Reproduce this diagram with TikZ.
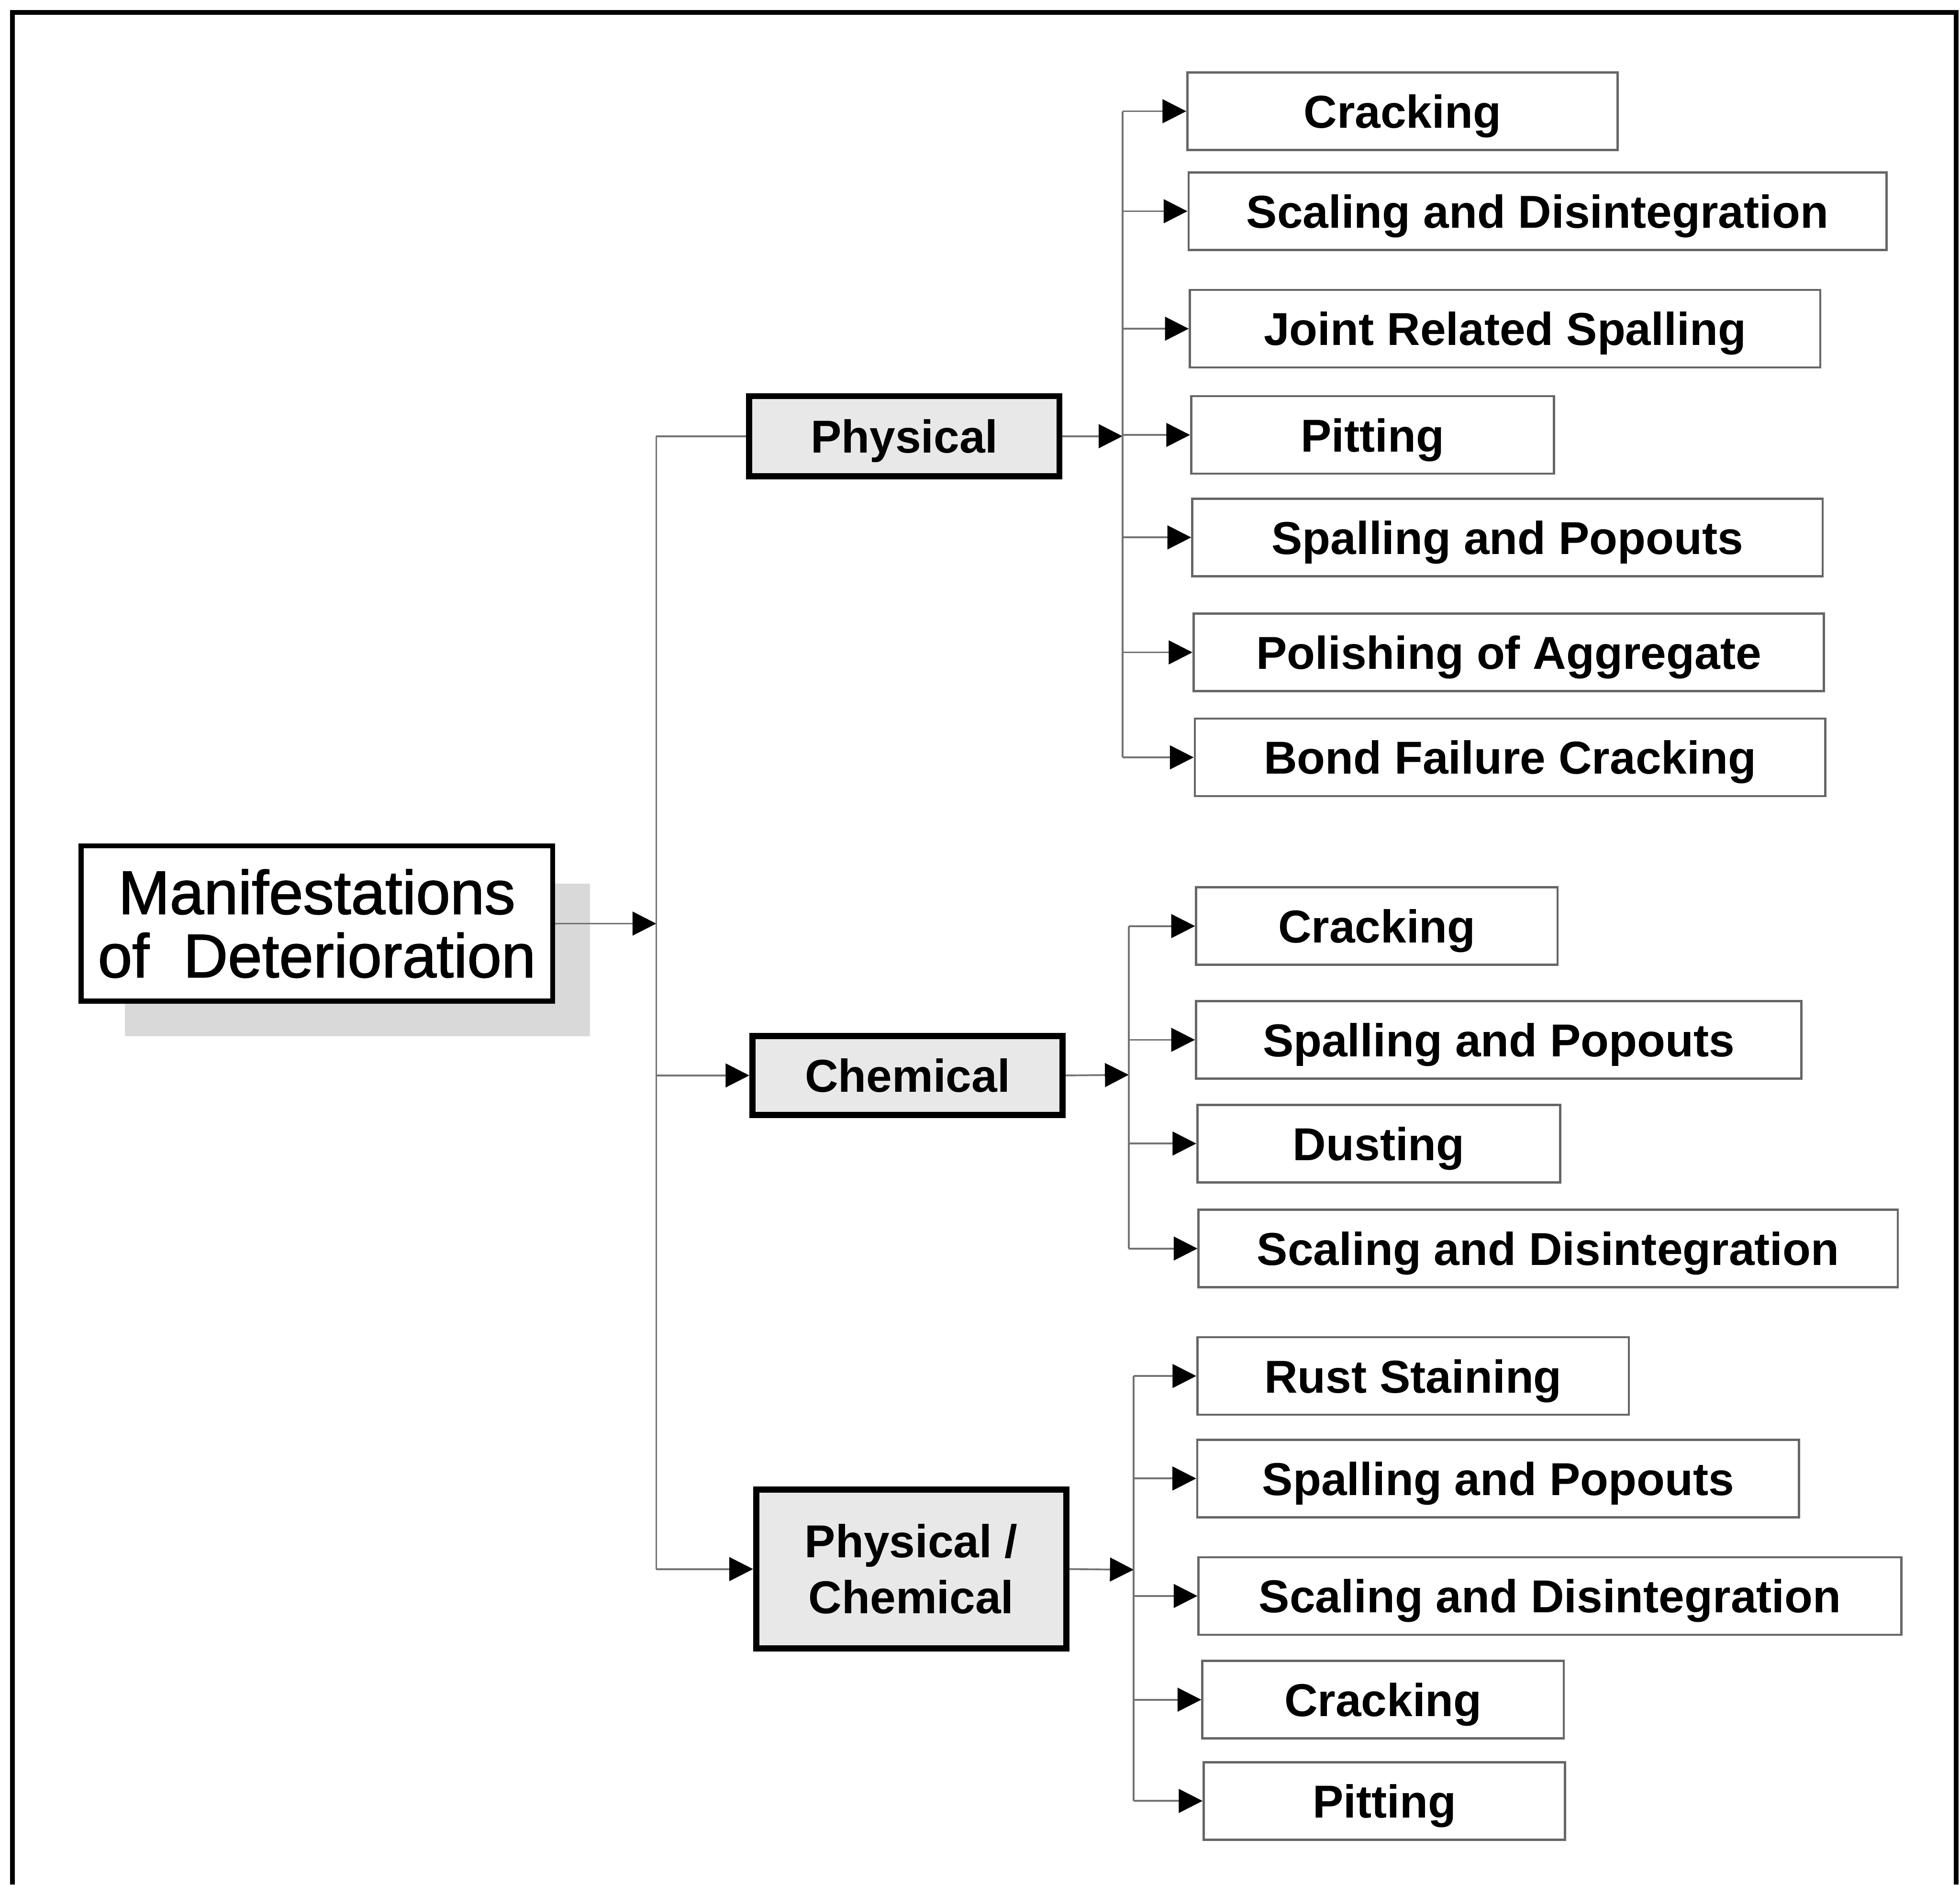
\documentclass[tikz,border=0pt]{standalone}
\usepackage{fontspec}
\setmainfont{Liberation Sans}
\newfontfamily\rootfont[FakeBold=1.5]{Liberation Sans}
\usetikzlibrary{arrows.meta}

\begin{document}
\begin{tikzpicture}[x=0.01cm, y=-0.01cm,
    rootbox/.style={rectangle, draw, line width=1.1pt, fill=white, align=center,
                    inner sep=0pt, minimum width=3.77cm, minimum height=1.24cm,
                    font=\rootfont\fontsize{14}{14.4}\selectfont},
    catbox/.style={rectangle, draw, line width=1.4pt, fill=gray!18, align=center,
                   inner sep=0pt, minimum width=2.48cm,
                   font=\fontsize{10.5}{12.8}\selectfont\bfseries},
    capline/.style={text height=7.6pt, text depth=0pt},
    leafbox/.style={rectangle, draw=black!60, line width=0.5pt, fill=white, capline,
                    inner sep=0pt, minimum height=0.62cm,
                    font=\fontsize{10.5}{12.8}\selectfont\bfseries},
    conn/.style={draw=black!55, line width=0.4pt},
    arr/.style={conn, -{Triangle[length=0.19cm, width=0.19cm, color=black]}}
]
\useasboundingbox (0,0) rectangle (1568,1508);
\draw[line width=1.1pt] (10,1508) -- (10,10) -- (1565,10) -- (1565,1508);

% root and its shadow
\fill[gray!30] (100,707) rectangle (472,829);
\node[rootbox] (root) at (253.5,739) {Manifestations\\of~ Deterioration};

\node[catbox, capline, minimum height=0.64cm] (phys) at (723.5,349) {Physical};
\node[catbox, capline, minimum height=0.63cm] (chem) at (726,860.5) {Chemical};
\node[catbox, minimum height=1.27cm] (physchem) at (729,1255.5) {Physical /\\Chemical};

\coordinate (trunk) at (525,739);
\coordinate (pbus) at (898,349);
\coordinate (cbus) at (903,860);
\coordinate (pcbus) at (907,1256);

\draw[arr] (root.east) -- (trunk);
\draw[conn] (trunk |- phys.west) -- (trunk |- physchem.west);
\draw[conn] (trunk |- phys.west) -- (phys.west);
\draw[arr] (trunk |- chem.west) -- (chem.west);
\draw[arr] (trunk |- physchem.west) -- (physchem.west);

\draw[arr] (phys.east) -- (pbus);
\draw[arr] (chem.east) -- (cbus);
\draw[arr] (physchem.east) -- (pcbus);

% leaves
\foreach \xa/\xb/\yc/\txt [count=\i] in {
    950/1294/89/Cracking,
    951/1509/169/Scaling and Disintegration,
    952/1456/263/Joint Related Spalling,
    953/1243/348/Pitting,
    954/1458/430/Spalling and Popouts,
    955/1459/522/Polishing of Aggregate,
    956/1460/606/Bond Failure Cracking} {
    \pgfmathsetmacro\leafw{(\xb-\xa)/100}
    \node[leafbox, minimum width=\leafw cm] (phys\i) at ({(\xa+\xb)/2},\yc) {\txt};
    \draw[arr] (pbus |- phys\i.west) -- (phys\i.west);
}
\foreach \xa/\xb/\yc/\txt [count=\i] in {
    957/1246/741/Cracking,
    957/1441/832/Spalling and Popouts,
    958/1248/915/Dusting,
    959/1518/999/Scaling and Disintegration} {
    \pgfmathsetmacro\leafw{(\xb-\xa)/100}
    \node[leafbox, minimum width=\leafw cm] (chem\i) at ({(\xa+\xb)/2},\yc) {\txt};
    \draw[arr] (cbus |- chem\i.west) -- (chem\i.west);
}
\foreach \xa/\xb/\yc/\txt [count=\i] in {
    958/1303/1101/Rust Staining,
    958/1439/1183/Spalling and Popouts,
    959/1521/1277/Scaling and Disintegration,
    962/1251/1360/Cracking,
    963/1252/1441/Pitting} {
    \pgfmathsetmacro\leafw{(\xb-\xa)/100}
    \node[leafbox, minimum width=\leafw cm] (pc\i) at ({(\xa+\xb)/2},\yc) {\txt};
    \draw[arr] (pcbus |- pc\i.west) -- (pc\i.west);
}

\draw[conn] (pbus |- phys1.west) -- (pbus |- phys7.west);
\draw[conn] (cbus |- chem1.west) -- (cbus |- chem4.west);
\draw[conn] (pcbus |- pc1.west) -- (pcbus |- pc5.west);
\end{tikzpicture}
\end{document}
